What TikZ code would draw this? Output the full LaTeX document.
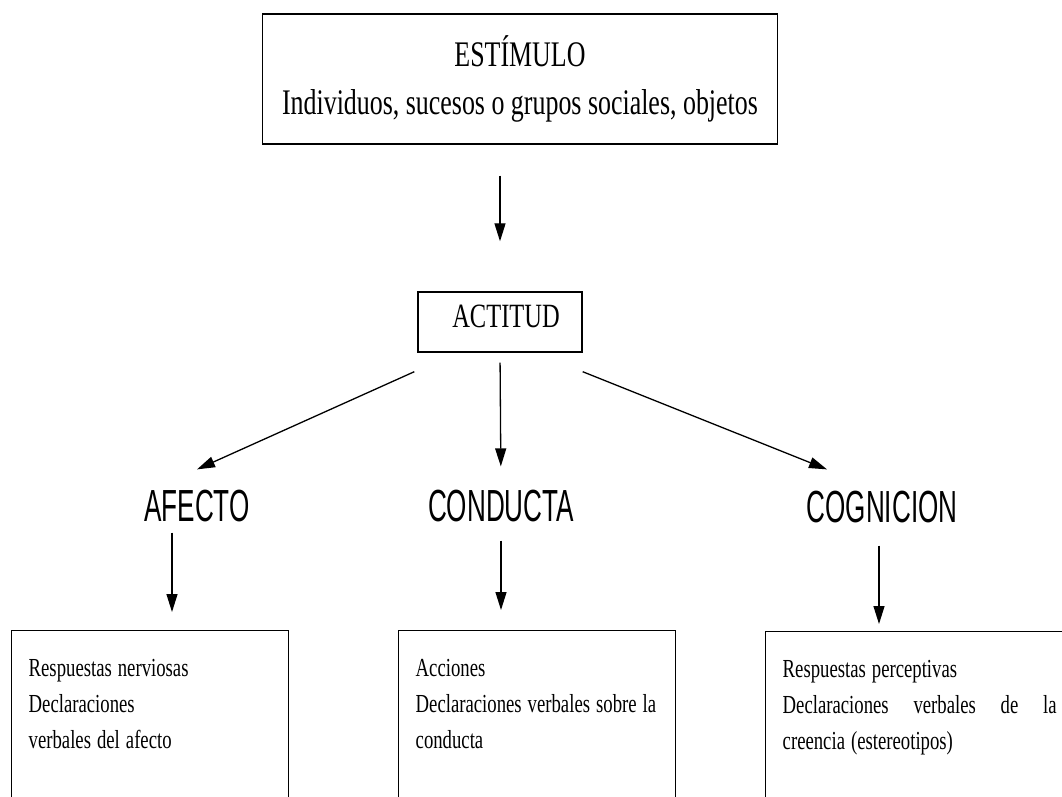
\documentclass[tikz,border=0pt]{standalone}
\usepackage{fontspec}
\usetikzlibrary{arrows.meta}
\newfontfamily\boxfont[FakeStretch=0.72]{Liberation Serif}
\newfontfamily\labelfont[FakeStretch=0.58]{Liberation Sans}

\begin{document}
\begin{tikzpicture}[x=1pt,y=-1pt,
		box/.style={draw,line width=1.4pt,align=center,font=\boxfont\fontsize{36}{48}\selectfont},
		comp/.style={inner sep=0pt,anchor=base,font=\labelfont\fontsize{45}{54}\selectfont},
		resp/.style={draw,line width=1.4pt,anchor=north west,align=left,inner xsep=17pt,inner ysep=29pt,
			text depth=150pt,font=\boxfont\fontsize{26}{36}\selectfont,
			execute at begin node={\spaceskip=6pt plus 8pt minus 1pt\relax}},
		arr/.style={line width=1.3pt,-{Triangle[length=18pt,width=11pt]}}]
	\useasboundingbox (0,0) rectangle (1062,796);
	\clip (0,0) rectangle (1062,796);
	\node[box,minimum width=515pt,minimum height=130pt] (estimulo) at (520,79)
		{ESTÍMULO\\Individuos, sucesos o grupos sociales, objetos};
	\node[box,minimum width=164pt,minimum height=60pt,text depth=11pt,font=\boxfont\fontsize{34}{40}\selectfont] (actitud) at (500,322) {\hspace*{12pt}ACTITUD};
	\node[comp] (afecto) at (197,521) {AFECTO};
	\node[comp] (conducta) at (501,521) {CONDUCTA};
	\node[comp] (cognicion) at (882,522) {COGNICION};
	\node[resp,text width=243pt] (resp1) at (11,630) {Respuestas nerviosas\\Declaraciones\\verbales del afecto};
	\node[resp,text width=243pt] (resp2) at (398,630) {Acciones\\\mbox{Declaraciones verbales sobre la}\\conducta};
	\node[resp,text width=274pt] (resp3) at (765,631) {Respuestas perceptivas\\\makebox[274pt][s]{Declaraciones verbales de la}\\creencia (estereotipos)};
	\coordinate (a1) at ([xshift=-25pt]afecto.south);
	\coordinate (a3) at ([xshift=-3pt]cognicion.south);
	\draw[arr,shorten <=31pt,shorten >=50pt] (estimulo.south -| actitud.north) -- (actitud.north);
	\draw[arr] ([xshift=-3pt,yshift=-19pt]actitud.south west) -- ([yshift=20pt]afecto.north);
	\draw[arr,shorten <=10pt,shorten >=23pt] (actitud.south) -- (conducta.north);
	\draw[arr] ([yshift=-19pt]actitud.south east) -- ([xshift=-55pt,yshift=21pt]cognicion.north);
	\draw[arr,shorten <=11pt,shorten >=18pt] (a1) -- (a1 |- resp1.north);
	\draw[arr,shorten <=19pt,shorten >=20pt] (conducta.south) -- (conducta.south |- resp2.north);
	\draw[arr,shorten <=23pt,shorten >=7pt] (a3) -- (a3 |- resp3.north);
\end{tikzpicture}
\end{document}
